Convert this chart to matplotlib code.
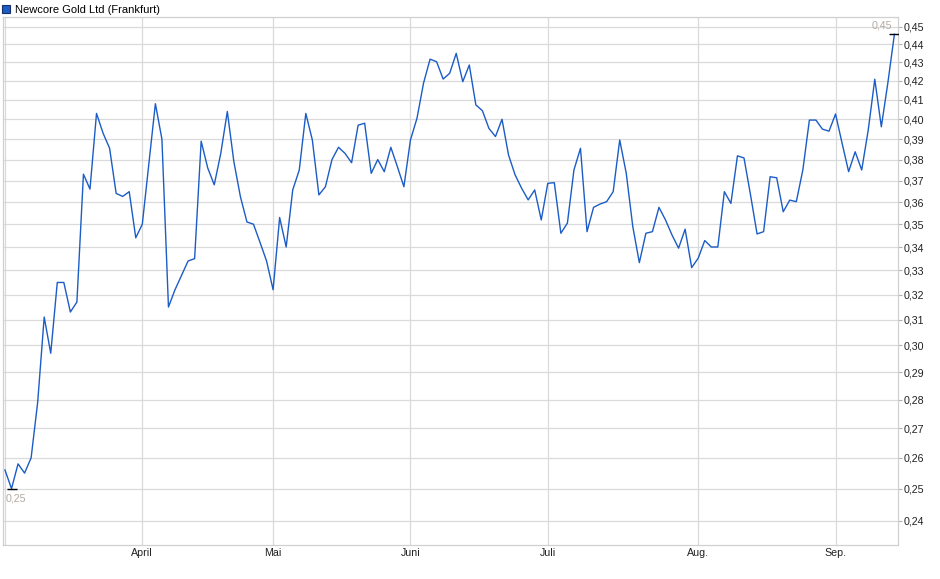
import numpy as np
import pandas as pd
import matplotlib
matplotlib.use("Agg")
import matplotlib.pyplot as plt
from matplotlib.ticker import FixedLocator, FixedFormatter, NullLocator
from matplotlib.lines import Line2D

plt.rcParams['font.family'] = ['Liberation Sans', 'DejaVu Sans']

# ---- data -------------------------------------------------------------
title = "Newcore Gold Ltd (Frankfurt)"
start_date = "2025-03-03"
end_date = "2025-09-12"
holidays = ["2025-04-18", "2025-04-21", "2025-05-01"]

prices = [
    0.256, 0.250, 0.258, 0.255, 0.260, 0.279, 0.311, 0.297, 0.325, 0.325,
    0.313, 0.317, 0.373, 0.366, 0.403, 0.393, 0.3855, 0.364, 0.3626, 0.3648,
    0.344, 0.350,
    0.378, 0.408, 0.390, 0.315, 0.322, 0.328, 0.334, 0.335, 0.389, 0.376,
    0.368, 0.383, 0.404, 0.379, 0.3625, 0.351, 0.350, 0.342, 0.334, 0.322,
    0.353, 0.340,
    0.3656, 0.375, 0.403, 0.3896, 0.3633, 0.3671, 0.380, 0.386, 0.383, 0.3785,
    0.397, 0.398, 0.3734, 0.380, 0.3742, 0.386, 0.3766, 0.3671, 0.3896, 0.4005,
    0.4188, 0.4318,
    0.4304, 0.421, 0.4241, 0.435, 0.4196, 0.4286, 0.4074, 0.4044, 0.3954, 0.3913,
    0.400, 0.3822, 0.3727, 0.3664, 0.361, 0.3656, 0.3519, 0.3687, 0.369, 0.346,
    0.3505,
    0.375, 0.3855, 0.3467, 0.3576, 0.3591, 0.3602, 0.3648, 0.3896, 0.3734, 0.3489,
    0.3333, 0.346, 0.3467, 0.3576, 0.3519, 0.3452, 0.3395, 0.3478, 0.3312, 0.3352,
    0.3428, 0.340,
    0.340, 0.3648, 0.3594, 0.3818, 0.3808, 0.3633, 0.3457, 0.3467, 0.3718, 0.3713,
    0.3556, 0.3609, 0.3602, 0.375, 0.3996, 0.3996, 0.395, 0.394, 0.4027, 0.388,
    0.3742, 0.3838, 0.375, 0.3946, 0.4209, 0.3962, 0.419, 0.4457,
]

month_labels = ["", "April", "Mai", "Juni", "Juli", "Aug.", "Sep."]
y_ticks = [0.24, 0.25, 0.26, 0.27, 0.28, 0.29, 0.30, 0.31, 0.32, 0.33, 0.34,
           0.35, 0.36, 0.37, 0.38, 0.39, 0.40, 0.41, 0.42, 0.43, 0.44, 0.45]
y_limits = (0.2327, 0.4556)

# ---- build ------------------------------------------------------------
dates = pd.bdate_range(start_date, end_date, freq="C", holidays=holidays)
dates = dates[:len(prices)]
vals = np.array(prices)
idx = np.arange(len(vals))

s = pd.Series(idx, index=dates)
month_first = s.groupby([dates.year, dates.month]).first().values

line_color = "#1b5cc6"
grid_color = "#dadada"

W, H = 940, 579
fig = plt.figure(figsize=(W / 100, H / 100), dpi=100)
ax = fig.add_axes([3 / W, 1 - 545 / H, (898 - 3) / W, (545 - 17) / H])

ax.set_yscale("log")
ax.set_ylim(*y_limits)
ax.set_xlim(-0.3, len(vals) - 1 + 0.55)

ax.plot(idx, vals, color=line_color, lw=1.0, zorder=3)

# grid
for yt in y_ticks:
    ax.axhline(yt, color=grid_color, lw=0.9, zorder=1)
for mx in month_first:
    ax.axvline(mx, color=grid_color, lw=0.9, zorder=1)

# y axis on the right
ax.yaxis.tick_right()
ax.yaxis.set_major_locator(FixedLocator(y_ticks))
ax.yaxis.set_major_formatter(FixedFormatter([f"{v:.2f}".replace(".", ",") for v in y_ticks]))
ax.yaxis.set_minor_locator(NullLocator())
ax.tick_params(axis="y", which="major", length=3, width=0.8, color="#b0b0b0",
               labelsize=7.7, pad=1.2, labelcolor="#222222")

ax.xaxis.set_major_locator(FixedLocator(month_first))
ax.xaxis.set_major_formatter(FixedFormatter(month_labels))
ax.xaxis.set_minor_locator(NullLocator())
ax.tick_params(axis="x", which="major", length=0, labelsize=7.7, pad=1.8,
               labelcolor="#222222")

for sp in ax.spines.values():
    sp.set_color("#d0d0d0")
    sp.set_linewidth(0.9)

# min / max markers
imin = int(np.argmin(vals))
imax = int(np.argmax(vals))
ax.plot([imin], [vals[imin]], marker="_", color="black", ms=7, mew=1.0, zorder=4)
ax.plot([imax], [vals[imax]], marker="_", color="black", ms=7, mew=1.0, zorder=4)
lab_col = "#b3aaa0"
ax.annotate(f"{vals[imin]:.2f}".replace(".", ","), (imin, vals[imin]),
            xytext=(-4, -3.5), textcoords="offset points", ha="left", va="top",
            fontsize=7.7, color=lab_col)
ax.annotate(f"{vals[imax]:.2f}".replace(".", ","), (imax, vals[imax]),
            xytext=(-1.5, 2.5), textcoords="offset points", ha="right", va="bottom",
            fontsize=7.7, color=lab_col)

# legend
handle = Line2D([], [], ls="none", marker="s", ms=6, mfc=line_color,
                mec="#1a2f66", mew=0.8)
ax.legend([handle], [title], loc="lower left", bbox_to_anchor=(-0.003, 1.0),
          frameon=False, fontsize=8.0, handletextpad=0.35, borderaxespad=0.05,
          borderpad=0.1, handlelength=0.8)

fig.savefig("out.png", dpi=100)
